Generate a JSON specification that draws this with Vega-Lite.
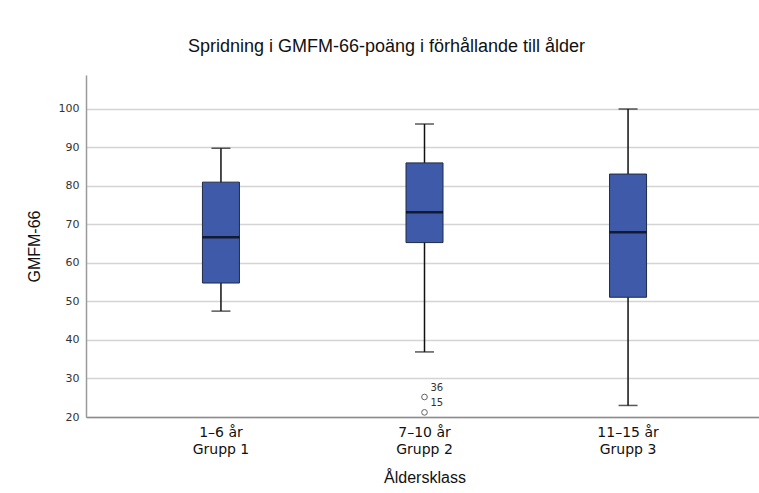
{
  "$schema": "https://vega.github.io/schema/vega-lite/v6.json",
  "autosize": {"type": "none"},
  "width": 677,
  "height": 342,
  "padding": {"left": 86, "top": 75, "right": 0, "bottom": 76},
  "background": "white",
  "title": {
    "text": "Spridning i GMFM-66-poäng i förhållande till ålder",
    "font": "Liberation Sans",
    "fontSize": 18,
    "fontWeight": "normal",
    "color": "#111",
    "anchor": "middle",
    "dx": -38,
    "offset": 19
  },
  "datasets": {
    "boxes": [
      {"grupp": "1–6 år|Grupp 1", "min": 47.5, "q1": 54.8, "median": 66.7, "q3": 81.0, "max": 89.8},
      {"grupp": "7–10 år|Grupp 2", "min": 36.9, "q1": 65.3, "median": 73.2, "q3": 86.0, "max": 96.1},
      {"grupp": "11–15 år|Grupp 3", "min": 23.0, "q1": 51.1, "median": 68.0, "q3": 83.1, "max": 100.0}
    ],
    "outliers": [
      {"grupp": "7–10 år|Grupp 2", "value": 25.2},
      {"grupp": "7–10 år|Grupp 2", "value": 21.2}
    ],
    "labels": [
      {"grupp": "7–10 år|Grupp 2", "value": 27.6, "id": "36"},
      {"grupp": "7–10 år|Grupp 2", "value": 23.7, "id": "15"}
    ]
  },
  "encoding": {
    "x": {
      "field": "grupp",
      "type": "nominal",
      "sort": null,
      "scale": {"domain": ["1–6 år|Grupp 1", "7–10 år|Grupp 2", "11–15 år|Grupp 3"], "paddingInner": 0, "paddingOuter": 0.163},
      "axis": {
        "title": "Åldersklass",
        "labelExpr": "split(datum.label, '|')",
        "labelAngle": 0,
        "labelFont": "DejaVu Sans",
        "labelFontSize": 14,
        "labelColor": "#111",
        "labelLineHeight": 17,
        "labelPadding": 8,
        "ticks": false,
        "domainColor": "#8c8c8c",
        "domainWidth": 1.5,
        "titleFont": "Liberation Sans",
        "titleFontSize": 16,
        "titleFontWeight": "normal",
        "titleColor": "#111",
        "titlePadding": 13,
        "grid": false
      }
    }
  },
  "layer": [
    {
      "data": {"name": "boxes"},
      "mark": {"type": "rule", "color": "#111", "strokeWidth": 1.5},
      "encoding": {
        "y": {
          "field": "min",
          "type": "quantitative",
          "scale": {"domain": [20, 108.83], "nice": false, "zero": false},
          "axis": {
            "title": "GMFM-66",
            "values": [20, 30, 40, 50, 60, 70, 80, 90, 100],
            "labelFont": "DejaVu Sans",
            "labelFontSize": 11,
            "labelColor": "#333",
            "labelPadding": 7,
            "ticks": false,
            "domainColor": "#9a9a9a",
            "domainWidth": 1.5,
            "gridColor": "#d4d4d4",
            "gridWidth": 1.5,
            "titleFont": "Liberation Sans",
            "titleFontSize": 16,
            "titleFontWeight": "normal",
            "titleColor": "#111",
            "titlePadding": 16
          }
        },
        "y2": {"field": "max"}
      }
    },
    {
      "data": {"name": "boxes"},
      "mark": {"type": "bar", "size": 37, "fill": "#3e5aa9", "stroke": "#1f2a44", "strokeWidth": 1},
      "encoding": {
        "y": {"field": "q1", "type": "quantitative"},
        "y2": {"field": "q3"}
      }
    },
    {
      "data": {"name": "boxes"},
      "mark": {"type": "tick", "size": 37, "thickness": 2.5, "color": "#000"},
      "encoding": {"y": {"field": "median", "type": "quantitative"}}
    },
    {
      "data": {"name": "boxes"},
      "mark": {"type": "tick", "size": 19, "thickness": 1.5, "color": "#111"},
      "encoding": {"y": {"field": "min", "type": "quantitative"}}
    },
    {
      "data": {"name": "boxes"},
      "mark": {"type": "tick", "size": 19, "thickness": 1.5, "color": "#111"},
      "encoding": {"y": {"field": "max", "type": "quantitative"}}
    },
    {
      "data": {"name": "outliers"},
      "mark": {"type": "point", "shape": "circle", "size": 32, "filled": false, "stroke": "#222", "strokeWidth": 1},
      "encoding": {"y": {"field": "value", "type": "quantitative"}}
    },
    {
      "data": {"name": "labels"},
      "mark": {"type": "text", "align": "left", "baseline": "middle", "dx": 6, "font": "DejaVu Sans", "fontSize": 10, "color": "#333"},
      "encoding": {
        "y": {"field": "value", "type": "quantitative"},
        "text": {"field": "id"}
      }
    }
  ],
  "config": {"view": {"stroke": null}}
}
